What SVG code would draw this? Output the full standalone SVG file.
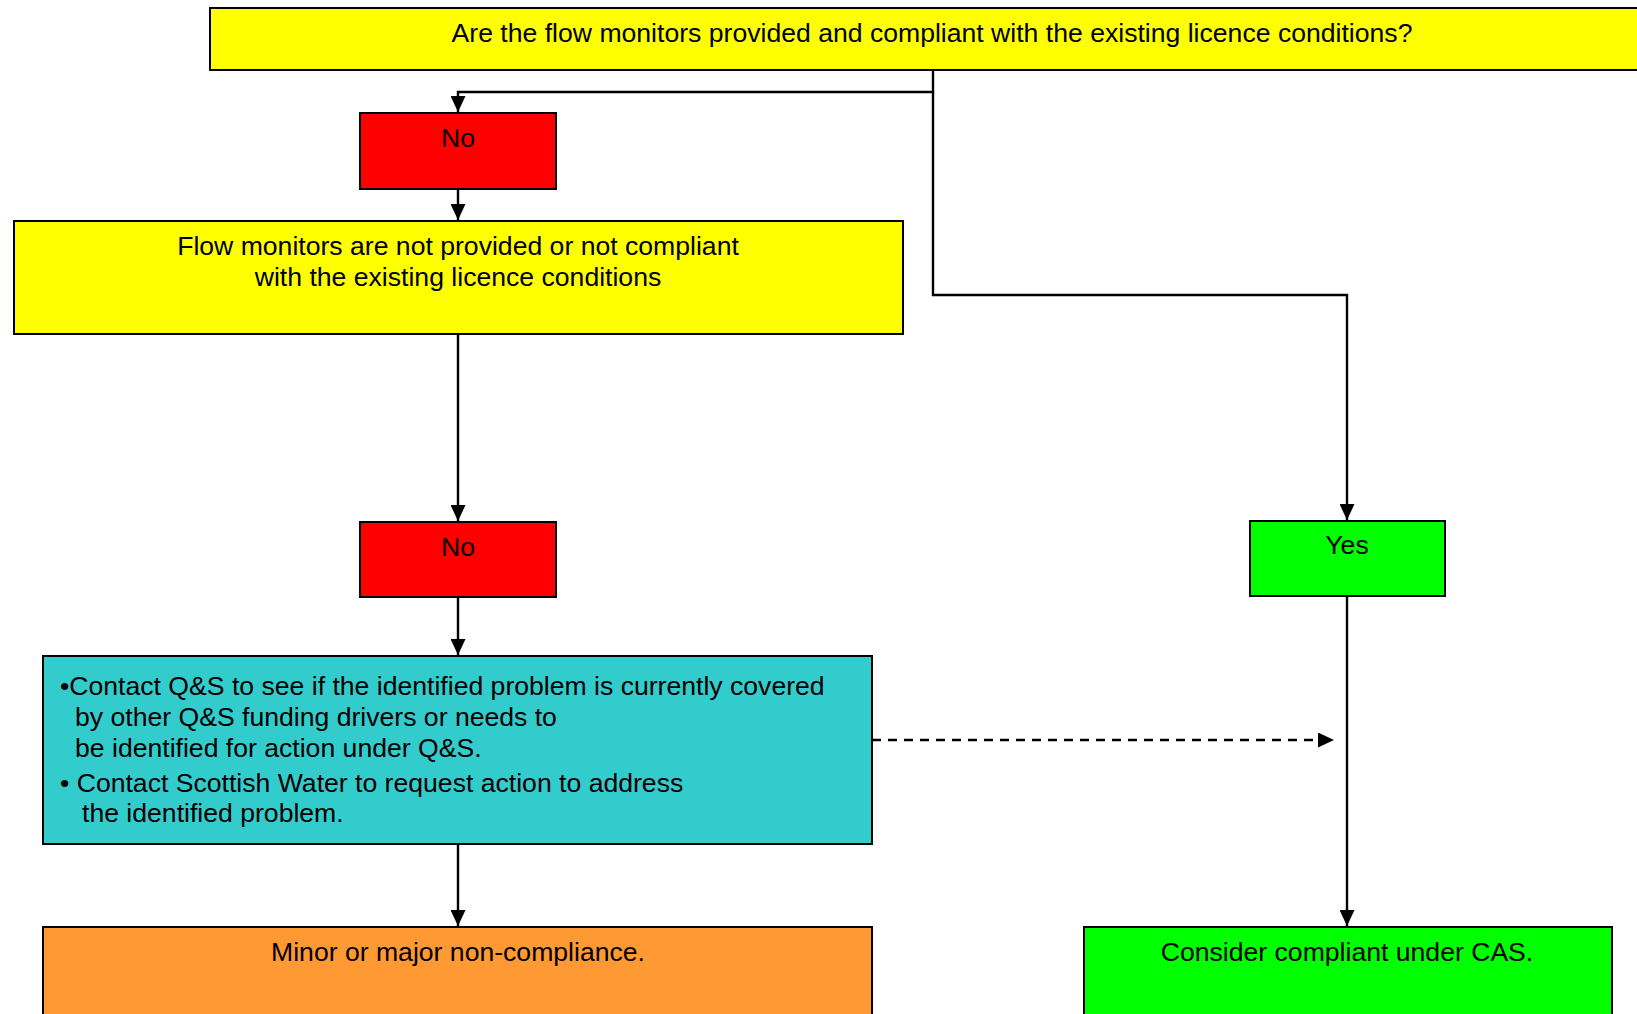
<svg xmlns="http://www.w3.org/2000/svg" width="1637" height="1014" viewBox="0 0 1637 1014">
<defs>
<style>
.box{stroke:#000;stroke-width:2}
.t{font-family:"Liberation Sans",Arial,sans-serif;font-size:26.6px;fill:#000}
.c{text-anchor:middle}
.ln{fill:none;stroke:#000;stroke-width:2.4}
</style>
<marker id="ah" viewBox="0 0 10 10" refX="10" refY="5" markerWidth="16" markerHeight="15" markerUnits="userSpaceOnUse" orient="auto" preserveAspectRatio="none">
<path d="M0,0 L10,5 L0,10 z" fill="#000"/>
</marker>
</defs>
<rect width="1637" height="1014" fill="#fff"/>
<g id="connectors">
<path class="ln" d="M933,70 V92 H458 V112" marker-end="url(#ah)"/>
<path class="ln" d="M933,92 V295 H1347 V520" marker-end="url(#ah)"/>
<path class="ln" d="M458,189 V220" marker-end="url(#ah)"/>
<path class="ln" d="M458,334 V521" marker-end="url(#ah)"/>
<path class="ln" d="M458,597 V655" marker-end="url(#ah)"/>
<path class="ln" d="M458,844 V926" marker-end="url(#ah)"/>
<path class="ln" d="M1347,596 V926" marker-end="url(#ah)"/>
<path class="ln" d="M872,740 H1334" stroke-dasharray="9,7" marker-end="url(#ah)"/>
</g>
<g id="q1">
<rect class="box" x="210" y="8" width="1450" height="62" fill="#ffff00"/>
<text class="t c" x="932" y="42">Are the flow monitors provided and compliant with the existing licence conditions?</text>
</g>
<g id="no1">
<rect class="box" x="360" y="113" width="196" height="76" fill="#ff0000"/>
<text class="t c" x="458" y="147">No</text>
</g>
<g id="notprovided">
<rect class="box" x="14" y="221" width="889" height="113" fill="#ffff00"/>
<text class="t c" x="458" y="255">Flow monitors are not provided or not compliant</text>
<text class="t c" x="458" y="286">with the existing licence conditions</text>
</g>
<g id="no2">
<rect class="box" x="360" y="522" width="196" height="75" fill="#ff0000"/>
<text class="t c" x="458" y="556">No</text>
</g>
<g id="contact">
<rect class="box" x="43" y="656" width="829" height="188" fill="#33cccc"/>
<text class="t" x="60" y="695">•Contact Q&amp;S to see if the identified problem is currently covered</text>
<text class="t" x="75" y="726">by other Q&amp;S funding drivers or needs to</text>
<text class="t" x="75" y="757">be identified for action under Q&amp;S.</text>
<text class="t" x="60" y="792">• Contact Scottish Water to request action to address</text>
<text class="t" x="82" y="822">the identified problem.</text>
</g>
<g id="minor">
<rect class="box" x="43" y="927" width="829" height="100" fill="#ff9933"/>
<text class="t c" x="458" y="961">Minor or major non-compliance.</text>
</g>
<g id="yes">
<rect class="box" x="1250" y="521" width="195" height="75" fill="#00ff00"/>
<text class="t c" x="1347" y="554">Yes</text>
</g>
<g id="compliant">
<rect class="box" x="1084" y="927" width="528" height="100" fill="#00ff00"/>
<text class="t c" x="1347" y="961">Consider compliant under CAS.</text>
</g>
</svg>
